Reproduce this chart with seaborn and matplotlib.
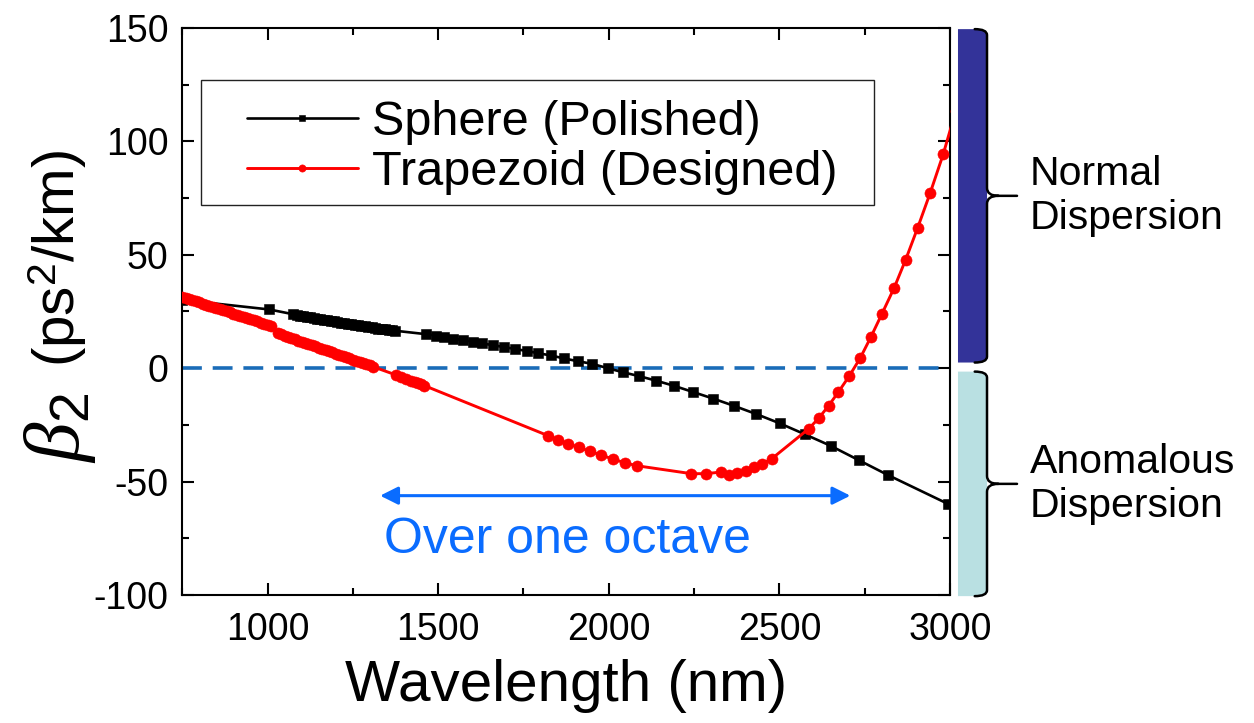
import numpy as np
import pandas as pd
import matplotlib
matplotlib.use("Agg")
import matplotlib.pyplot as plt
import matplotlib.transforms as mtransforms
from matplotlib.path import Path
from matplotlib.patches import PathPatch, Rectangle
from matplotlib.ticker import MultipleLocator
import seaborn as sns

# ---- data: GVD (beta2) versus wavelength ----
sphere_wl = [750, 1005,
             1075, 1085, 1095, 1105, 1115, 1125, 1135, 1145, 1155, 1165,
             1175, 1185, 1195, 1205, 1215, 1225, 1235, 1245, 1255, 1265,
             1275, 1285, 1295, 1305, 1315, 1325, 1335, 1345, 1355, 1365, 1375,
             1465, 1494, 1518, 1545, 1572, 1601, 1629, 1660, 1692, 1725,
             1759, 1794, 1831, 1869, 1909, 1952, 1997, 2042, 2089, 2139,
             2192, 2247, 2306, 2367, 2432, 2501, 2574, 2650, 2732, 2818, 2995]
sphere_b2 = [30.1, 25.9,
             23.8, 23.5, 23.2, 23.0, 22.7, 22.4, 22.1, 21.9, 21.6, 21.3,
             21.1, 20.8, 20.6, 20.3, 20.1, 19.8, 19.6, 19.4, 19.1, 18.9,
             18.7, 18.4, 18.2, 18.0, 17.8, 17.5, 17.3, 17.1, 16.9, 16.7, 16.5,
             15.0, 14.3, 13.7, 13.0, 12.4, 11.7, 10.9, 10.2, 9.3, 8.5,
             7.6, 6.6, 5.6, 4.3, 3.1, 1.9, 0.0, -1.8, -3.5, -5.5,
             -7.8, -10.5, -13.4, -16.6, -20.2, -24.3, -29.1, -34.2, -40.5, -47.1, -59.9]

trap_wl = [750, 760, 770, 780, 790, 800, 810, 820, 830, 840, 850, 860, 870,
           880, 890, 900, 910, 920, 930, 940, 950, 960, 970, 980, 990, 1000, 1010,
           1030, 1040, 1050, 1060, 1070, 1080, 1090, 1100, 1110, 1120, 1130,
           1140, 1150, 1160, 1170, 1180, 1190, 1200, 1210, 1220, 1230, 1240,
           1250, 1260, 1270, 1280, 1290, 1300, 1310,
           1377, 1392, 1406, 1421, 1431, 1440, 1450, 1460,
           1823, 1852, 1881, 1913, 1944, 1977, 2011, 2047, 2082,
           2242, 2284, 2329, 2352, 2376, 2401, 2426, 2450, 2477,
           2586, 2615, 2644, 2673, 2705, 2737, 2768, 2800, 2836, 2870,
           2905, 2942, 2980, 3017]
trap_b2 = [31.4, 31.0, 30.5, 30.0, 29.5, 29.0, 28.5, 28.0, 27.5, 27.0, 26.5, 26.0, 25.5,
           25.1, 24.6, 24.1, 23.6, 23.1, 22.6, 22.1, 21.6, 21.1, 20.6, 20.1, 19.6, 19.1, 18.6,
           15.4, 14.9, 14.3, 13.8, 13.3, 12.8, 12.2, 11.7, 11.2, 10.6, 10.1,
           9.6, 9.1, 8.5, 8.0, 7.5, 7.0, 6.4, 5.9, 5.4, 4.9, 4.3,
           3.8, 3.3, 2.8, 2.2, 1.7, 1.2, 0.6,
           -3.0, -3.8, -4.6, -5.5, -6.0, -6.6, -7.1, -7.7,
           -29.8, -31.5, -33.3, -34.9, -36.6, -38.3, -40.0, -41.7, -43.0,
           -46.5, -46.5, -45.8, -47.2, -46.2, -45.2, -43.7, -42.1, -40.0,
           -26.7, -22.1, -16.6, -10.5, -3.4, 4.5, 13.7, 23.8, 35.3, 47.8,
           61.8, 77.3, 94.3, 113.5]

series_labels = ["Sphere (Polished)", "Trapezoid (Designed)"]
octave_span = [1330, 2708]          # wavelength range marked by the double arrow
octave_level = -56.2
normal_range = [2.5, 149.5]         # beta2 > 0 band
anomalous_range = [-100.5, -1.5]    # beta2 < 0 band
x_limits = [750, 3000]
y_limits = [-100, 150]

# ---- style ----
sns.set_style("ticks")
plt.rcParams["font.family"] = ["Liberation Sans", "DejaVu Sans"]
plt.rcParams["mathtext.fontset"] = "custom"
plt.rcParams["mathtext.rm"] = "Liberation Sans"
plt.rcParams["mathtext.it"] = "Liberation Serif:italic"
plt.rcParams["axes.unicode_minus"] = False
for key in ["text.color", "axes.labelcolor", "xtick.color", "ytick.color",
            "xtick.labelcolor", "ytick.labelcolor"]:
    plt.rcParams[key] = "black"

W, H = 1254, 723
fig = plt.figure(figsize=(W / 100, H / 100), dpi=100)
ax = fig.add_axes([182.2 / W, 1 - 595 / H, (950 - 182.2) / W, (595 - 28) / H])

df_s = pd.DataFrame({"wl": sphere_wl, "b2": sphere_b2})
df_t = pd.DataFrame({"wl": trap_wl, "b2": trap_b2})

ax.axhline(0, color="#1a6cb8", lw=2.6, dashes=(5.5, 3.0), zorder=1)

sns.lineplot(data=df_s, x="wl", y="b2", ax=ax, color="black", lw=1.9,
             marker="s", markersize=6.5, markeredgewidth=0.4,
             markeredgecolor="black", label=series_labels[0], zorder=3)
sns.lineplot(data=df_t, x="wl", y="b2", ax=ax, color="#ff0000", lw=2.1,
             marker="o", markersize=8, markeredgewidth=0.4,
             markeredgecolor="#ff0000", label=series_labels[1], zorder=4)

ax.set_xlim(*x_limits)
ax.set_ylim(*y_limits)
ax.xaxis.set_major_locator(MultipleLocator(500))
ax.xaxis.set_minor_locator(MultipleLocator(250))
ax.yaxis.set_major_locator(MultipleLocator(50))
ax.yaxis.set_minor_locator(MultipleLocator(25))
ax.tick_params(which="both", direction="in", top=True, right=True, width=1.5,
               color="black")
ax.tick_params(which="major", length=8.5, labelsize=27)
ax.tick_params(axis="x", which="major", pad=12)
ax.tick_params(axis="y", which="major", pad=10)
ax.tick_params(which="minor", length=5)
for s in ax.spines.values():
    s.set_linewidth(1.5)
    s.set_color("black")

ax.set_xlabel("Wavelength (nm)", fontsize=42, labelpad=8, color="black")
ax.set_ylabel("")

# y label: large italic beta with subscript, then the units
fig.text(60 / W, 1 - 428 / H, r"$\beta_2$", rotation=90, fontsize=57,
         ha="center", va="center")
fig.text(58 / W, 1 - 258 / H, r"(ps$^2$/km)", rotation=90, fontsize=42,
         ha="center", va="center")

# legend with a square frame
ax.add_patch(Rectangle((0.0245, 0.688), 0.901 - 0.0245, 0.908 - 0.688,
                       transform=ax.transAxes, facecolor="white",
                       edgecolor="#222222", lw=1.0, zorder=5))
handles, labels = ax.get_legend_handles_labels()
leg = ax.legend(handles, labels, frameon=False, loc="center left",
                bbox_to_anchor=(0.0844, 0.789), borderpad=0, borderaxespad=0,
                handlelength=2.28, handletextpad=0.29, labelspacing=0.1,
                fontsize=35, labelcolor="black")
leg.set_zorder(6)
for h, ms in zip(leg.legend_handles, [4.2, 5.2]):
    h.set_markersize(ms)

# double arrow and label
blue = "#0a6cff"
ax.annotate("", xy=(octave_span[0], octave_level),
            xytext=(octave_span[1], octave_level),
            arrowprops=dict(arrowstyle="<|-|>,head_length=0.4,head_width=0.2",
                            color=blue, lw=2.2, mutation_scale=27,
                            shrinkA=0, shrinkB=0))
ax.text(1340, -81.4, "Over one octave", color=blue, fontsize=36,
        ha="left", va="baseline")

# dispersion braces on the right
btrans = mtransforms.blended_transform_factory(ax.transAxes, ax.transData)
xl, xs, xr, xt, xk = 1.0104, 1.0322, 1.0482, 1.0873, 1.063
d, e = 2.6, 3.5


def brace(lo, hi, fill, text):
    mid = 0.5 * (lo + hi)
    body = Path([(xl, hi), (xs, hi), (xr, hi), (xr, hi - d),
                 (xr, lo + d), (xr, lo), (xs, lo), (xl, lo), (xl, hi)],
                [Path.MOVETO, Path.LINETO, Path.CURVE3, Path.CURVE3,
                 Path.LINETO, Path.CURVE3, Path.CURVE3, Path.LINETO,
                 Path.CLOSEPOLY])
    ax.add_patch(PathPatch(body, transform=btrans, facecolor=fill,
                           edgecolor="none", clip_on=False, zorder=2))
    outline = Path([(xs, hi), (xr, hi), (xr, hi - d),
                    (xr, mid + e), (xr, mid), (xk, mid), (xt, mid),
                    (xk, mid), (xr, mid), (xr, mid - e),
                    (xr, lo + d), (xr, lo), (xs, lo)],
                   [Path.MOVETO, Path.CURVE3, Path.CURVE3,
                    Path.LINETO, Path.CURVE3, Path.CURVE3, Path.LINETO,
                    Path.MOVETO, Path.CURVE3, Path.CURVE3,
                    Path.LINETO, Path.CURVE3, Path.CURVE3])
    ax.add_patch(PathPatch(outline, transform=btrans, facecolor="none",
                           edgecolor="black", lw=1.8, clip_on=False, zorder=3,
                           capstyle="round", joinstyle="round"))
    ax.text(1.1042, mid, text, transform=btrans, fontsize=29.5,
            ha="left", va="center", linespacing=1.2)


brace(normal_range[0], normal_range[1], "#333399", "Normal\nDispersion")
brace(anomalous_range[0], anomalous_range[1], "#b9e0e2", "Anomalous\nDispersion")

fig.savefig("out.png", dpi=100)
